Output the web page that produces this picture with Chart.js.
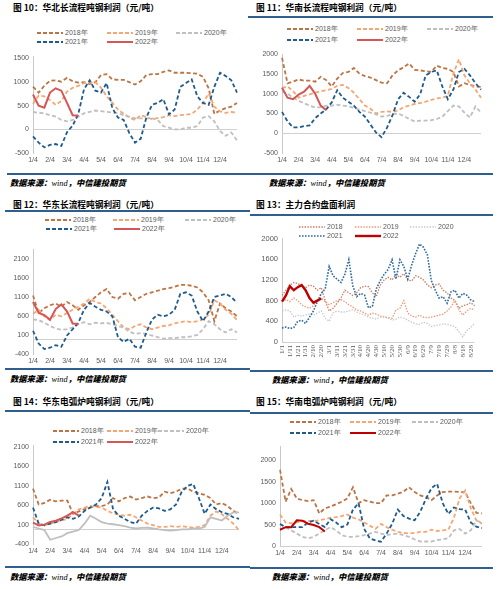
<!DOCTYPE html>
<html lang="zh">
<head>
<meta charset="utf-8">
<script src="https://cdn.jsdelivr.net/npm/chart.js@4.4.1/dist/chart.umd.min.js"></script>
<style>
  body { margin:0; width:500px; height:589px; position:relative; background:#fff; overflow:hidden;
         font-family:"Noto Sans CJK SC","Noto Sans",sans-serif; }
  .title { position:absolute; font-size:8.7px; font-weight:bold; color:#000; line-height:10px; white-space:nowrap; }
  .src { position:absolute; font-size:8.3px; font-weight:900; font-style:italic; color:#000; line-height:10px; white-space:nowrap; }
  .src span { font-family:"Liberation Serif",serif; font-weight:normal; }
  .rule { position:absolute; height:1.5px; background:#2F5F8F; }
  .key { position:absolute; font-family:"Liberation Sans",Arial,sans-serif; font-size:7px; color:#595959;
         line-height:8px; white-space:nowrap; }
  .key svg { vertical-align:middle; margin-right:2px; }
  canvas { position:absolute; }
</style>
</head>
<body>

<div class="title" style="left:13px;top:3px">图 10：华北长流程吨钢利润（元/吨）</div>
<div class="title" style="left:256px;top:3px">图 11：华南长流程吨钢利润（元/吨）</div>
<div class="title" style="left:13px;top:200px">图 12：华东长流程吨钢利润（元/吨）</div>
<div class="title" style="left:256px;top:200px">图 13：主力合约盘面利润</div>
<div class="title" style="left:13px;top:397px">图 14：华东电弧炉吨钢利润（元/吨）</div>
<div class="title" style="left:256px;top:397px">图 15：华南电弧炉吨钢利润（元/吨）</div>

<div class="rule" style="left:248px;top:16px;width:245px"></div>
<div class="rule" style="left:5px;top:210px;width:245px"></div>
<div class="rule" style="left:250px;top:214px;width:243px"></div>
<div class="rule" style="left:5px;top:410px;width:245px"></div>
<div class="rule" style="left:250px;top:412px;width:243px"></div>
<div class="rule" style="left:7px;top:173px;width:486px"></div>
<div class="rule" style="left:5px;top:368px;width:245px"></div>
<div class="rule" style="left:250px;top:370px;width:243px"></div>
<div class="rule" style="left:5px;top:566px;width:245px"></div>
<div class="rule" style="left:250px;top:567px;width:243px"></div>

<div class="src" style="left:10px;top:177px">数据来源：<span>wind</span>，中信建投期货</div>
<div class="src" style="left:269px;top:177px">数据来源：<span>wind</span>，中信建投期货</div>
<div class="src" style="left:10px;top:373px">数据来源：<span>wind</span>，中信建投期货</div>
<div class="src" style="left:272px;top:374px">数据来源：<span>wind</span>，中信建投期货</div>
<div class="src" style="left:10px;top:571px">数据来源：<span>wind</span>，中信建投期货</div>
<div class="src" style="left:272px;top:571px">数据来源：<span>wind</span>，中信建投期货</div>

<canvas id="c1" width="237" height="119" style="left:3px;top:48px"></canvas>
<canvas id="c2" width="232" height="121" style="left:252px;top:46px"></canvas>
<canvas id="c3" width="237" height="127" style="left:3px;top:241px"></canvas>
<canvas id="c4" width="234" height="138" style="left:252px;top:230px"></canvas>
<canvas id="c5" width="239" height="121" style="left:3px;top:437px"></canvas>
<canvas id="c6" width="235" height="122" style="left:250px;top:438px"></canvas>

<script>
// x categories, roughly every 10 days (only the "/4" ones are labelled)
const dates = ['1/4','1/14','1/24','2/4','2/14','2/24','3/4','3/14','3/24','4/4','4/14','4/24',
  '5/4','5/14','5/24','6/4','6/14','6/24','7/4','7/14','7/24','8/4','8/14','8/24',
  '9/4','9/14','9/24','10/4','10/14','10/24','11/4','11/14','11/24','12/4','12/14','12/24','12/29'];
// 图13 every 5 days (every 2nd labelled)
const pmDates = ['1/1','1/6','1/11','1/16','1/21','1/26','1/31','2/5','2/10','2/15','2/20','2/25',
  '3/1','3/6','3/11','3/16','3/21','3/26','3/31','4/5','4/10','4/15','4/20','4/25','4/30',
  '5/5','5/10','5/15','5/20','5/25','5/30','6/4','6/9','6/14','6/19','6/24','6/29',
  '7/4','7/9','7/14','7/19','7/24','7/29','8/3','8/8','8/13','8/18','8/23','8/28','9/2'];

// 图10 华北长流程
const hb2018 = [905, 780, 925, 1030, 1040, 1010, 1090, 1020, 990, 1000, 960, 1000, 1150, 1170, 1060, 1050, 1050, 1000,
  950, 1020, 1150, 1170, 1170, 1220, 1250, 1200, 1200, 1200, 1190, 1180, 1110, 870, 330, 400, 450, 480, 560];
const hb2019 = [540, 720, 700, 620, 520, 600, 800, 880, 920, 980, 990, 1000, 880, 700, 560, 420, 330, 250,
  200, 300, 260, 220, 240, 260, 300, 280, 300, 310, 330, 420, 560, 760, 480, 380, 350, 370, 350];
const hb2020 = [370, 350, 340, 300, 270, 200, 170, 200, 270, 340, 370, 400, 385, 370, 360, 340, 300, 270,
  235, 235, 235, 235, 200, 70, 35, 0, 0, 35, 35, 70, 250, 280, 170, -35, -135, -65, -235];
const hb2021 = [-150, -280, -380, -330, -310, -350, -60, 80, 330, 850, 1040, 820, 780, 980, 450, 250, 200, -80,
  -280, -200, 250, 520, 560, 640, 320, 420, 900, 980, 1060, 700, 560, 520, 900, 1200, 1130, 1040, 780];
const hb2022 = [740, 500, 460, 780, 870, 820, 560, 300, 290];

// 图11 华南长流程
const hn2018 = [1910, 1265, 1305, 1360, 1330, 1330, 1305, 1425, 1345, 1185, 1385, 1525, 1550, 1650, 1510, 1445, 1410, 1345,
  1280, 1265, 1465, 1590, 1670, 1765, 1605, 1590, 1570, 1550, 1710, 1650, 1630, 1550, 1185, 1265, 1225, 1185, 1170];
const hn2019 = [1145, 1185, 1065, 900, 945, 985, 1025, 1065, 1090, 1120, 1200, 1225, 1145, 1025, 860, 700, 620, 500,
  540, 555, 540, 580, 660, 700, 740, 765, 800, 845, 880, 900, 945, 1510, 1870, 1465, 1265, 1105, 900];
const hn2020 = [1050, 1000, 900, 820, 760, 700, 650, 660, 700, 700, 720, 700, 680, 640, 600, 560, 520, 480,
  420, 440, 480, 500, 440, 360, 300, 320, 320, 330, 360, 420, 560, 700, 680, 520, 400, 680, 520];
const hn2021 = [540, 300, 150, 150, 180, 200, 380, 500, 605, 780, 1090, 900, 800, 700, 540, 420, 220, 20,
  -100, 140, 460, 860, 1025, 920, 800, 985, 1465, 1550, 1590, 1185, 860, 1105, 1550, 1630, 1465, 1265, 1105];
const hn2022 = [1150, 900, 860, 980, 1050, 1200, 1000, 700, 580];

// 图12 华东长流程
const hd2018 = [1135, 670, 800, 880, 925, 840, 965, 880, 760, 880, 965, 1095, 1220, 1305, 1095, 1050, 1180, 1195,
  1010, 1095, 1180, 1220, 1260, 1305, 1330, 1365, 1415, 1415, 1390, 1345, 1220, 1010, 460, 925, 800, 715, 590];
const hd2019 = [655, 760, 590, 490, 630, 590, 675, 760, 840, 925, 1050, 965, 925, 800, 630, 460, 295, 250,
  335, 380, 295, 250, 295, 335, 350, 405, 435, 460, 435, 460, 505, 630, 1010, 925, 760, 655, 490];
const hd2020 = [505, 490, 420, 335, 270, 235, 250, 295, 380, 435, 380, 420, 405, 420, 380, 335, 295, 185,
  125, 150, 125, 85, 40, 0, 15, 15, 40, 40, 65, 100, 250, 460, 380, 250, 165, 250, 165];
const hd2021 = [210, -125, -270, -235, -170, -210, 85, 250, 420, 760, 940, 840, 760, 715, 590, 40, -85, 0,
  -210, -235, 165, 505, 630, 590, 630, 760, 1180, 1220, 1135, 715, 460, 715, 1095, 1135, 1180, 1095, 940];
const hd2022 = [965, 680, 620, 500, 780, 900, 720, 400, 390];

// 图13 主力合约盘面利润
const pm2018 = [900, 1000, 1100, 1150, 1130, 1080, 1050, 1100, 1080, 1000, 1050, 800, 600, 650, 750, 850, 1000,
  950, 900, 950, 1050, 1080, 1070, 950, 880, 1100, 1200, 1250, 1200, 1300, 1250, 1320, 1200, 1180, 1280,
  1250, 1200, 1100, 1050, 1100, 1120, 1000, 950, 850, 800, 650, 700, 720, 760, 700];
const pm2019 = [780, 820, 780, 850, 800, 720, 680, 650, 700, 820, 850, 780, 720, 760, 800, 820, 780, 720,
  680, 620, 600, 560, 520, 560, 540, 500, 480, 470, 460, 620, 650, 800, 560, 500, 480, 520, 480, 470, 480,
  500, 520, 540, 600, 680, 800, 620, 520, 600, 650, 620];
const pm2020 = [600, 620, 600, 480, 520, 500, 520, 540, 520, 560, 600, 460, 400, 560, 600, 580, 580, 600,
  620, 580, 550, 520, 480, 460, 440, 480, 500, 460, 420, 440, 480, 460, 420, 380, 350, 340, 380, 360, 300,
  320, 330, 350, 340, 320, 300, 200, 100, 220, 280, 360];
const pm2021 = [270, 290, 260, 280, 400, 420, 360, 480, 600, 780, 940, 1030, 1460, 1280, 1215, 1150, 1310,
  1590, 1090, 875, 940, 905, 660, 690, 1030, 1185, 1310, 1400, 1590, 1215, 1590, 1460, 1215, 1490, 1710,
  1895, 1830, 1680, 1185, 1000, 845, 875, 750, 970, 1000, 845, 940, 905, 815, 780];
const pm2022 = [780, 900, 1080, 1000, 1060, 1100, 1000, 850, 760, 800, 840];

// 图14 华东电弧炉
const hdEaf2018 = [1030, 620, 660, 740, 700, 720, 720, 380, 440, 500, 540, 580, 580, 620, 785, 700, 785, 825,
  745, 785, 825, 785, 800, 950, 910, 950, 1030, 1030, 950, 910, 870, 785, 620, 660, 580, 455, 370];
const hdEaf2019 = [290, 125, 85, 125, 165, 205, 250, 370, 495, 540, 580, 555, 540, 455, 390, 355, 330, 355,
  290, 205, 125, 85, 40, 40, 60, 40, 60, 40, 25, 40, 85, 330, 440, 370, 250, 125, -40];
const hdEaf2020 = [40, 0, -40, -290, -245, -205, -120, -80, -40, 125, 330, 250, 165, 125, 110, 85, 60, 25,
  0, 15, 25, 0, -25, -40, -55, -40, -25, -25, 0, 0, 40, 290, 250, 205, 330, 415, 415];
const hdEaf2021 = [540, 125, 85, 125, 165, 225, 290, 250, 310, 455, 540, 620, 785, 1200, 495, 330, 250, 165,
  125, 330, 455, 540, 520, 455, 495, 620, 950, 1100, 1150, 780, 380, 620, 500, 420, 380, 290, 250];
const hdEaf2022 = [150, 80, 100, 170, 200, 260, 330, 420, 330];

// 图15 华南电弧炉
const hnEaf2018 = [1780, 1035, 1330, 1110, 1070, 1050, 1070, 760, 880, 920, 975, 1035, 1110, 1370, 1000, 1070, 1035, 1000,
  1000, 1180, 1180, 1220, 1270, 1370, 1260, 1180, 1145, 1070, 1180, 1260, 1270, 1270, 1260, 1260, 1000, 775, 760];
const hnEaf2019 = [735, 550, 530, 550, 575, 590, 575, 600, 625, 660, 675, 700, 735, 660, 625, 550, 475, 400,
  515, 440, 380, 330, 305, 290, 305, 330, 330, 380, 350, 365, 380, 660, 1110, 1295, 885, 600, 520];
const hnEaf2020 = [515, 440, 365, 290, 215, 180, 215, 290, 365, 440, 365, 255, 215, 215, 230, 255, 290, 330,
  290, 255, 275, 290, 255, 215, 155, 105, 105, 105, 140, 155, 180, 365, 400, 290, 365, 590, 550];
const hnEaf2021 = [515, 440, 440, 440, 440, 550, 590, 515, 440, 625, 550, 440, 500, 850, 1000, 400, 180, 130,
  100, 290, 520, 850, 700, 640, 600, 800, 1100, 1350, 1450, 1000, 750, 900, 860, 850, 550, 450, 420];
const hnEaf2022 = [380, 440, 440, 600, 590, 520, 490, 440, 340];

// y tick labels
const ticksA = [-500, 0, 500, 1000, 1500];
const ticksB = [-500, 0, 500, 1000, 1500, 2000];
const ticksC = [-400, 100, 600, 1100, 1600, 2100];
const ticksD = [0, 200, 400, 600, 800, 1000, 1200, 1400, 1600, 1800, 2000];
const ticksE = [0, 500, 1000, 1500, 2000];

const years = ['2018年', '2019年', '2020年', '2021年', '2022年'];
const pmYears = ['2018', '2019', '2020', '2021', '2022'];

const colors = {
  y18: '#BD7444',
  y19: '#F5A673',
  y20: '#BFBFBF',
  y21: '#1F5A8C',
  y22: '#D55652',
  dark22: '#C00000'
};

const tickFont = { family: 'Liberation Sans', size: 7 };
const tickColor = '#595959';

// gray line where the category axis crosses zero
const zeroLine = {
  id: 'zeroLine',
  beforeDatasetsDraw(chart) {
    const { ctx, chartArea: { left, right }, scales: { y } } = chart;
    const py = Math.round(y.getPixelForValue(0)) + 0.5;
    ctx.save();
    ctx.strokeStyle = '#D0D0D0';
    ctx.lineWidth = 1;
    ctx.beginPath();
    ctx.moveTo(left, py);
    ctx.lineTo(right, py);
    ctx.stroke();
    ctx.restore();
  }
};

function line(data, color, dash, width) {
  return { data, borderColor: color, borderWidth: width, borderDash: dash,
           pointRadius: 0, fill: false, tension: 0 };
}

const monthStart = lbl => lbl.endsWith('/4');

function makeChart(id, labels, series, yTicks, yMax, opts = {}) {
  const show = opts.show || monthStart;
  const rot = opts.rotate || 0;
  new Chart(document.getElementById(id), {
    type: 'line',
    data: { labels, datasets: series.slice().reverse() },
    plugins: [zeroLine],
    options: {
      responsive: false,
      animation: false,
      events: [],
      layout: { padding: 0 },
      plugins: { legend: { display: false }, tooltip: { enabled: false } },
      scales: {
        x: {
          offset: false,
          grid: { display: false, drawTicks: false },
          border: { display: false },
          afterFit: s => { s.height = opts.xHeight || 14; },
          ticks: {
            autoSkip: false, maxRotation: rot, minRotation: rot, padding: 3,
            font: opts.xFont || tickFont, color: tickColor,
            callback(v, i) {
              const lbl = this.getLabelForValue(v);
              return show(lbl, i) ? lbl : '';
            }
          }
        },
        y: {
          min: yTicks[0], max: yMax,
          afterBuildTicks: s => { s.ticks = yTicks.map(v => ({ value: v })); },
          afterFit: s => { s.width = 30; },
          grid: { display: false, drawTicks: false },
          border: { color: '#C8C8C8', width: 1 },
          ticks: { font: opts.yFont || tickFont, color: tickColor, padding: 4, callback: v => String(v) }
        }
      }
    }
  });
}

const dash = [4, 2.5];
function yearly(a, b, c, d, e, red, grayDash) {
  return [
    line(a, colors.y18, dash, 1.8),
    line(b, colors.y19, dash, 1.8),
    line(c, colors.y20, grayDash || dash, 1.8),
    line(d, colors.y21, dash, 1.8),
    line(e, red || colors.y22, [], 2)
  ];
}

makeChart('c1', dates, yearly(hb2018, hb2019, hb2020, hb2021, hb2022), ticksA, 1550);
makeChart('c2', dates, yearly(hn2018, hn2019, hn2020, hn2021, hn2022), ticksB, 2000);
makeChart('c3', dates, yearly(hd2018, hd2019, hd2020, hd2021, hd2022), ticksC, 2350);
makeChart('c4', pmDates, [
  line(pm2018, '#C8785A', [1.4, 1.4], 1.3),
  line(pm2019, '#F29373', [1.4, 1.4], 1.3),
  line(pm2020, '#C8C8C8', [1.4, 1.4], 1.3),
  line(pm2021, '#2E6B9E', [1.6, 1.4], 1.6),
  line(pm2022, colors.dark22, [], 2.4)
], ticksD, 2000, { show: (lbl, i) => i % 2 === 0, rotate: 90, xHeight: 26,
  yFont: { family: 'Liberation Sans', size: 7.5 }, xFont: { family: 'Liberation Serif', size: 7 } });
makeChart('c5', dates, yearly(hdEaf2018, hdEaf2019, hdEaf2020, hdEaf2021, hdEaf2022, null, []), ticksC, 2150);
makeChart('c6', dates, yearly(hnEaf2018, hnEaf2019, hnEaf2020, hnEaf2021, hnEaf2022, colors.dark22), ticksE, 2330);

// legends
function addKey(x, y, color, dashArr, width, text) {
  const el = document.createElement('div');
  el.className = 'key';
  el.style.left = x + 'px';
  el.style.top = (y - 4) + 'px';
  el.innerHTML = '<svg width="26" height="4"><line x1="0" y1="2" x2="26" y2="2" stroke="' + color +
    '" stroke-width="' + width + '" stroke-dasharray="' + dashArr + '"/></svg>' + text;
  document.body.appendChild(el);
}
function legend(xs, rows, names, style) {
  for (let i = 0; i < 5; i++) {
    const x = i < 3 ? xs[i] : xs[i - 3] + (style.shift || 0);
    const y = i < 3 ? rows[0] : rows[1];
    addKey(x, y, style.colors[i], style.dash[i], style.width[i], names[i]);
  }
}
const dashStyle = {
  colors: [colors.y18, colors.y19, colors.y20, colors.y21, colors.y22],
  dash: ['4 2', '4 2', '4 2', '4 2', 'none'],
  width: [2, 2, 2, 2, 2]
};
legend([37, 107, 176], [33, 42], years, dashStyle);
legend([287, 357, 427], [29, 40], years, dashStyle);
legend([45, 113, 185], [220, 229], years, Object.assign({ shift: 1 }, dashStyle));
legend([299, 355, 410], [227, 236], pmYears, {
  colors: ['#C8785A', '#F29373', '#C8C8C8', '#2E6B9E', colors.dark22],
  dash: ['1.4 1.4', '1.4 1.4', '1.4 1.4', '1.6 1.4', 'none'],
  width: [1.4, 1.4, 1.4, 1.6, 2.4]
});
legend([53, 107, 158], [431, 442], years, dashStyle);
legend([290, 350, 412], [422, 433], years, Object.assign({}, dashStyle,
  { colors: [colors.y18, colors.y19, colors.y20, colors.y21, colors.dark22] }));
</script>
</body>
</html>
